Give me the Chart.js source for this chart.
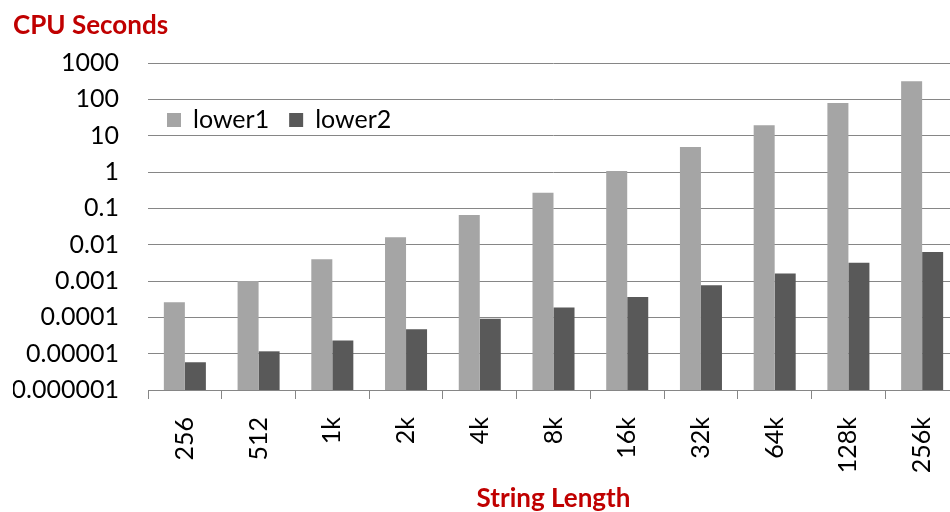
<!DOCTYPE html>
<html>
<head>
<meta charset="utf-8">
<script src="https://cdn.jsdelivr.net/npm/chart.js@4/dist/chart.umd.min.js"></script>
<style>
  html, body { margin: 0; padding: 0; background: #fff; overflow: hidden; width: 950px; height: 512px; }
  #wrap { width: 960px; height: 512px; position: relative; }
  canvas { display: block; width: 960px; height: 512px; }
</style>
</head>
<body>
<div id="wrap"><canvas id="c" width="960" height="512"></canvas></div>
<script>
// ---- data ----
const categories = ['256', '512', '1k', '2k', '4k', '8k', '16k', '32k', '64k', '128k', '256k'];
const lower1 = [0.00026, 0.001, 0.004, 0.016, 0.066, 0.27, 1.06, 4.85, 19.5, 79, 316];
const lower2 = [0.0000058, 0.0000116, 0.000023, 0.000047, 0.000092, 0.000186, 0.00036, 0.00076, 0.0016, 0.0032, 0.0063];
const seriesNames = ['lower1', 'lower2'];
const yTickValues = [0.000001, 0.00001, 0.0001, 0.001, 0.01, 0.1, 1, 10, 100, 1000];
const yTickLabels = ['0.000001', '0.00001', '0.0001', '0.001', '0.01', '0.1', '1', '10', '100', '1000'];
const chartTitle = 'CPU Seconds';
const xAxisTitle = 'String Length';

const FONT = 'Lato, "Open Sans", "DejaVu Sans", sans-serif';
const RED = '#C00000';
const GRID = '#868686';

// legend drawn inside the plot area, upper left
const innerLegend = {
  id: 'innerLegend',
  afterDraw(chart) {
    const ctx = chart.ctx;
    const area = chart.chartArea;
    let x = area.left + 19;
    const cy = 120;
    const box = 14;
    ctx.save();
    ctx.font = '25px ' + FONT;
    ctx.textBaseline = 'middle';
    ctx.textAlign = 'left';
    chart.data.datasets.forEach(ds => {
      ctx.fillStyle = ds.backgroundColor;
      ctx.fillRect(x, cy - box / 2, box, box);
      x += box + 12;
      ctx.fillStyle = '#000';
      ctx.fillText(ds.label, x, cy);
      x += ctx.measureText(ds.label).width + 20;
    });
    ctx.restore();
  }
};

new Chart(document.getElementById('c'), {
  type: 'bar',
  data: {
    labels: categories,
    datasets: [
      { label: seriesNames[0], data: lower1, backgroundColor: '#A5A5A5' },
      { label: seriesNames[1], data: lower2, backgroundColor: '#595959' }
    ]
  },
  options: {
    responsive: false,
    maintainAspectRatio: false,
    animation: false,
    // the plot area runs a little past the right edge of the picture, as in the original
    layout: { padding: { left: 13, right: 1, top: 0, bottom: 0 } },
    datasets: { bar: { categoryPercentage: 0.57, barPercentage: 1.0 } },
    plugins: {
      legend: { display: false },
      tooltip: { enabled: false },
      title: {
        display: true,
        text: chartTitle,
        align: 'start',
        color: RED,
        font: { family: FONT, size: 26, weight: 'bold', lineHeight: 1.2 },
        padding: { top: 10, bottom: 21.8 }
      }
    },
    scales: {
      x: {
        type: 'category',
        offset: true,
        grid: { display: true, drawOnChartArea: false, offset: true, tickLength: 9, color: GRID, lineWidth: 1 },
        border: { display: true, color: GRID, width: 1 },
        ticks: {
          autoSkip: false, minRotation: 90, maxRotation: 90, padding: 18,
          color: '#000', font: { family: FONT, size: 25 }
        },
        title: {
          display: true, text: xAxisTitle, color: RED,
          font: { family: FONT, size: 26, weight: 'bold', lineHeight: 1.0 },
          padding: { top: 0, bottom: 0 }
        },
        afterFit(s) { s.height = 122; s.paddingRight = 0; s.paddingLeft = 0; }
      },
      y: {
        type: 'logarithmic',
        min: yTickValues[0],
        max: yTickValues[yTickValues.length - 1],
        grid: { display: true, drawTicks: false, color: GRID, lineWidth: 1 },
        border: { display: false },
        afterBuildTicks(s) { s.ticks = yTickValues.map(v => ({ value: v })); },
        ticks: {
          autoSkip: false, padding: 29, color: '#000',
          font: { family: FONT, size: 25 },
          callback: (v, i) => yTickLabels[i]
        },
        afterFit(s) { s.width = 135; }
      }
    }
  },
  plugins: [innerLegend]
});
</script>
</body>
</html>
